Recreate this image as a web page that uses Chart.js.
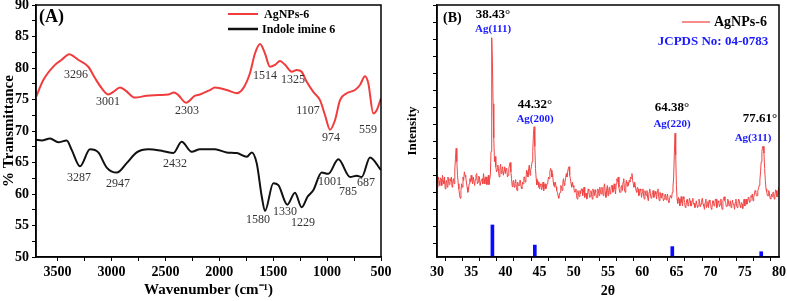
<!DOCTYPE html>
<html>
<head>
<meta charset="utf-8">
<title>FTIR and XRD of AgNPs-6</title>
<script src="https://cdn.jsdelivr.net/npm/chart.js"></script>
<style>
  body { margin: 0; background: #fff; }
  #wrap { position: relative; width: 787px; height: 301px; }
  canvas { position: absolute; top: 0; }
  #ftirChart { left: 0; }
  #xrdChart { left: 395px; }
</style>
</head>
<body>
<div id="wrap">
  <canvas id="ftirChart" width="395" height="301"></canvas>
  <canvas id="xrdChart" width="392" height="301"></canvas>
</div>
<script>
// ---- (A) FTIR ----
var agWave = [3700, 3632, 3524, 3462, 3391, 3354, 3308, 3215, 3153, 3091, 3029, 2983, 2921, 2874, 2782,
  2673, 2566, 2473, 2420, 2380, 2309, 2225, 2179, 2086, 2040, 1931, 1838, 1777, 1715, 1669, 1622, 1576,
  1530, 1483, 1437, 1390, 1328, 1282, 1236, 1189, 1128, 1066, 1019, 973, 927, 880, 818, 741, 695, 648,
  618, 571, 540, 500];
var agTrans = [75.4, 78.1, 80.5, 81.3, 82.2, 81.9, 81.3, 80.2, 78.4, 76.8, 75.8, 76.2, 76.9, 76.5, 75.3,
  75.6, 75.7, 75.8, 76.1, 75.7, 74.5, 75.6, 75.8, 76.5, 76.9, 76.5, 76.0, 76.8, 79.2, 82.3, 83.8, 82.3,
  80.2, 80.5, 81.1, 80.5, 79.4, 79.7, 79.4, 77.8, 76.2, 74.9, 72.5, 70.2, 71.7, 74.9, 76.0, 76.5, 77.3, 78.7,
  77.6, 72.8, 73.3, 75.2];

var imineWave = [3700, 3647, 3570, 3493, 3415, 3369, 3292, 3199, 3122, 3044, 2951, 2859, 2766, 2658, 2519,
  2426, 2349, 2256, 2179, 2086, 2040, 1931, 1838, 1745, 1699, 1653, 1606, 1576, 1499, 1452, 1369, 1298,
  1236, 1180, 1128, 1050, 989, 896, 787, 725, 679, 602, 500];
var imineTrans = [68.6, 68.5, 68.8, 68.2, 68.5, 67.0, 64.4, 67.1, 66.6, 64.2, 63.4, 64.9, 66.6, 67.1, 66.8,
  66.5, 68.3, 66.7, 67.1, 67.1, 67.1, 66.6, 66.5, 65.9, 66.6, 64.9, 59.6, 57.3, 61.7, 61.4, 58.3, 60.2,
  57.9, 59.6, 60.6, 63.4, 63.2, 65.5, 62.7, 62.9, 62.7, 65.8, 63.8];

var ftirBandLabels = ['3296', '3001', '2303', '1514', '1325', '1107', '974', '559',
  '3287', '2947', '2432', '1580', '1330', '1229', '1001', '785', '687'];

// ---- (B) XRD (one value every 0.1 deg from 30 to 80) ----
var xrdStart = 30, xrdStep = 0.1;
var xrdCounts = [
  440, 410, 470, 445, 420, 465, 455, 420, 480, 450, 430, 470, 400, 440, 450, 410, 470, 445, 425, 460,
  445, 470, 410, 440, 460, 430, 510, 580, 638, 560, 480, 430, 400, 360, 345, 390, 430, 410, 470, 450,
  500, 480, 470, 440, 410, 380, 390, 430, 460, 440, 480, 450, 430, 470, 470, 420, 455, 480, 490, 430,
  440, 475, 470, 420, 420, 455, 460, 430, 490, 460, 430, 470, 470, 425, 440, 480, 425, 455, 480, 620,
  1288, 1150, 900, 700, 560, 590, 530, 500, 511, 540, 500, 470, 520, 545, 490, 510, 530, 480, 505, 530,
  490, 520, 515, 470, 480, 520, 540, 555, 500, 460, 413, 440, 450, 410, 430, 455, 410, 390, 440, 420,
  420, 450, 450, 410, 400, 440, 430, 470, 470, 440, 455, 510, 500, 470, 520, 540, 480, 510, 530, 560,
  620, 720, 765, 650, 520, 460, 423, 450, 440, 410, 400, 430, 420, 395, 410, 440, 390, 415, 430, 400,
  410, 430, 440, 470, 460, 500, 521, 510, 470, 490, 440, 420, 410, 440, 413, 390, 380, 360, 345, 370,
  380, 420, 410, 390, 440, 460, 420, 440, 460, 490, 470, 500, 521, 530, 480, 460, 430, 410, 440, 420,
  410, 380, 384, 400, 360, 340, 390, 370, 355, 390, 370, 400, 400, 360, 380, 410, 350, 370, 375, 340,
  360, 400, 390, 350, 354, 390, 370, 340, 400, 380, 360, 395, 380, 350, 350, 400, 390, 360, 410, 380,
  370, 410, 395, 360, 413, 430, 380, 350, 393, 420, 360, 390, 410, 370, 380, 420, 420, 380, 390, 430,
  400, 370, 430, 460, 442, 470, 410, 380, 380, 410, 420, 390, 440, 460, 400, 380, 430, 450, 415, 440,
  420, 450, 440, 470, 462, 490, 450, 430, 410, 440, 420, 390, 380, 410, 400, 360, 370, 400, 390, 350,
  380, 400, 364, 340, 390, 370, 360, 390, 345, 330, 380, 400, 370, 345, 350, 380, 390, 350, 360, 385,
  370, 340, 384, 400, 355, 330, 380, 360, 345, 375, 360, 330, 340, 365, 370, 335, 350, 370, 330, 320,
  340, 360, 355, 345, 380, 410, 470, 610, 727, 600, 420, 340, 315, 350, 340, 300, 330, 355, 320, 300,
  354, 340, 320, 290, 300, 335, 340, 300, 310, 345, 330, 300, 300, 330, 345, 310, 315, 290, 295, 330,
  330, 290, 300, 340, 325, 295, 310, 335, 345, 310, 300, 280, 320, 340, 290, 305, 325, 290, 335, 320,
  310, 280, 290, 330, 330, 300, 305, 340, 340, 290, 300, 330, 320, 295, 310, 340, 295, 280, 330, 345,
  354, 330, 320, 295, 300, 340, 330, 300, 310, 330, 290, 305, 335, 310, 305, 280, 320, 340, 300, 290,
  315, 340, 330, 300, 290, 320, 310, 285, 325, 340, 300, 320, 340, 310, 320, 350, 345, 320, 330, 360,
  350, 370, 330, 350, 370, 390, 384, 360, 360, 390, 400, 420, 450, 500, 560, 620, 648, 650, 610, 520,
  450, 400, 384, 360, 360, 390, 370, 345, 340, 370, 354, 380, 380, 340, 360, 395, 390, 354, 354, 390,
  410];

var jcpdsAngle = [38.1, 44.3, 64.4, 77.4];
var jcpdsCounts = [188, 70, 61, 31];

var peakLabels = ['38.43\u00B0', '44.32\u00B0', '64.38\u00B0', '77.61\u00B0'];
var hklLabels = ['Ag(111)', 'Ag(200)', 'Ag(220)', 'Ag(311)'];

// where the text labels sit, in data units
var ftirBandPos = [[3329, 78.9], [3032, 74.6], [2299, 73.2], [1576, 78.7], [1316, 78.1], [1177, 73.2],
  [964, 68.9], [621, 70.2], [3301, 62.5], [2939, 61.6], [2411, 64.8], [1641, 55.9], [1390, 57.1],
  [1223, 55.4], [973, 61.9], [806, 60.3], [639, 61.7]];
var peakLabelPos = [[38.19, 1421], [44.33, 893], [64.36, 875], [77.22, 810]];
var hklLabelPos = [[38.19, 1339], [44.33, 810], [64.36, 781], [76.2, 699]];

var SERIF = "'Liberation Serif', 'Times New Roman', serif";
Chart.defaults.font.family = SERIF;
Chart.defaults.color = '#000';
Chart.defaults.animation = false;

function pairs(xs, ys) {
  return xs.map(function (x, i) { return { x: x, y: ys[i] }; });
}

function write(ctx, s, x, y, font, color, align) {
  ctx.save();
  ctx.font = font;
  ctx.fillStyle = color;
  ctx.textAlign = align || 'center';
  ctx.textBaseline = 'middle';
  ctx.fillText(s, x, y);
  ctx.restore();
}

function legendLine(ctx, x1, x2, y, color, width) {
  ctx.save();
  ctx.strokeStyle = color;
  ctx.lineWidth = width;
  ctx.beginPath();
  ctx.moveTo(x1, y);
  ctx.lineTo(x2, y);
  ctx.stroke();
  ctx.restore();
}

var framePlugin = {
  id: 'frame',
  afterDraw: function (chart) {
    var a = chart.chartArea, c = chart.ctx;
    c.save();
    c.strokeStyle = '#000';
    c.lineWidth = 1.5;
    c.strokeRect(a.left, a.top, a.right - a.left, a.bottom - a.top);
    c.restore();
  }
};

function axisStyle() {
  return {
    grid: { drawOnChartArea: false, drawTicks: true, tickLength: 4, color: '#000', lineWidth: 1 },
    border: { display: true, color: '#000', width: 1.5 }
  };
}

// ---------- (A) ----------
var ftirNotes = {
  id: 'ftirNotes',
  afterDraw: function (chart) {
    var c = chart.ctx, xs = chart.scales.x, ys = chart.scales.y;
    ftirBandLabels.forEach(function (t, i) {
      write(c, t, xs.getPixelForValue(ftirBandPos[i][0]), ys.getPixelForValue(ftirBandPos[i][1]),
        '12px ' + SERIF, '#333');
    });
    write(c, '(A)', 39, 17, 'bold 18px ' + SERIF, '#000', 'left');
    legendLine(c, 228, 258, 14, '#f03c3c', 2);
    write(c, 'AgNPs-6', 264, 15, 'bold 12px ' + SERIF, '#000', 'left');
    legendLine(c, 228, 258, 29, '#111', 2.5);
    write(c, 'Indole imine 6', 262, 30, 'bold 12px ' + SERIF, '#000', 'left');
  }
};

var ax = axisStyle(), ay = axisStyle();
new Chart(document.getElementById('ftirChart'), {
  type: 'line',
  data: {
    datasets: [
      { label: 'AgNPs-6', data: pairs(agWave, agTrans), borderColor: '#f03c3c', borderWidth: 2,
        pointRadius: 0, cubicInterpolationMode: 'monotone', fill: false },
      { label: 'Indole imine 6', data: pairs(imineWave, imineTrans), borderColor: '#111', borderWidth: 2,
        pointRadius: 0, cubicInterpolationMode: 'monotone', fill: false }
    ]
  },
  options: {
    responsive: false,
    devicePixelRatio: 1,
    layout: { padding: { top: 5, right: 14, left: 0, bottom: 0 } },
    plugins: { legend: { display: false }, tooltip: { enabled: false } },
    scales: {
      x: {
        type: 'linear', reverse: true, min: 500, max: 3700, offset: false,
        grid: ax.grid, border: ax.border,
        afterBuildTicks: function (s) {
          var t = [];
          for (var v = 500; v <= 3500; v += 250) t.push({ value: v });
          s.ticks = t;
        },
        afterFit: function (s) { s.height = 44; s.paddingLeft = 0; s.paddingRight = 0; },
        ticks: {
          autoSkip: false, maxRotation: 0, padding: 3, color: '#000',
          font: { size: 14, weight: 'bold', family: SERIF },
          callback: function (v) { return v % 500 === 0 ? v : ''; }
        },
        title: {
          display: true, text: 'Wavenumber (cm\u207B\u00B9)', color: '#000',
          font: { size: 15, weight: 'bold', family: SERIF }, padding: { top: 0, bottom: 2 }
        }
      },
      y: {
        min: 50, max: 90,
        grid: ay.grid, border: ay.border,
        afterBuildTicks: function (s) {
          var t = [];
          for (var v = 50; v <= 90; v += 2.5) t.push({ value: v });
          s.ticks = t;
        },
        afterFit: function (s) { s.width = 36; s.paddingTop = 0; s.paddingBottom = 0; },
        ticks: {
          autoSkip: false, padding: 3, color: '#000',
          font: { size: 14, weight: 'bold', family: SERIF },
          callback: function (v) { return v % 5 === 0 ? v : ''; }
        },
        title: {
          display: true, text: '% Transmittance', color: '#000',
          font: { size: 15, weight: 'bold', family: SERIF }, padding: { top: 0, bottom: 0 }
        }
      }
    }
  },
  plugins: [framePlugin, ftirNotes]
});

// ---------- (B) ----------
var xrdNotes = {
  id: 'xrdNotes',
  afterDraw: function (chart) {
    var c = chart.ctx, xs = chart.scales.x, ys = chart.scales.y;
    peakLabels.forEach(function (t, i) {
      write(c, t, xs.getPixelForValue(peakLabelPos[i][0]), ys.getPixelForValue(peakLabelPos[i][1]),
        'bold 13px ' + SERIF, '#000');
      write(c, hklLabels[i], xs.getPixelForValue(hklLabelPos[i][0]), ys.getPixelForValue(hklLabelPos[i][1]),
        'bold 11px ' + SERIF, '#1a1aff');
    });
    write(c, '(B)', 48, 18, 'bold 14px ' + SERIF, '#000', 'left');
    legendLine(c, 287, 315, 22, '#f04040', 1.2);
    write(c, 'AgNPs-6', 319, 22, 'bold 14px ' + SERIF, '#000', 'left');
    write(c, 'JCPDS No: 04-0783', 318, 42, 'bold 13px ' + SERIF, '#1a1aff');
  }
};

// sampling grid of the scan: 30, 30.1, 30.2 ... 80
var xrdPoints = xrdCounts.map(function (v, i) {
  return { x: Math.round((xrdStart + i * xrdStep) * 10) / 10, y: v };
});
var bx = axisStyle(), by = axisStyle();
new Chart(document.getElementById('xrdChart'), {
  type: 'line',
  data: {
    datasets: [
      { type: 'line', label: 'AgNPs-6', data: xrdPoints, borderColor: '#f04545', borderWidth: 1,
        pointRadius: 0, tension: 0, fill: false, order: 1 },
      { type: 'bar', label: 'JCPDS 04-0783', data: pairs(jcpdsAngle, jcpdsCounts), backgroundColor: '#0a0aff',
        barThickness: 3, grouped: false, order: 2 }
    ]
  },
  options: {
    responsive: false,
    devicePixelRatio: 1,
    layout: { padding: { top: 5, right: 8, left: 0, bottom: 0 } },
    plugins: { legend: { display: false }, tooltip: { enabled: false } },
    scales: {
      x: {
        type: 'linear', min: 30, max: 80, offset: false,
        grid: bx.grid, border: bx.border,
        afterBuildTicks: function (s) {
          var t = [];
          for (var v = 30; v <= 80; v += 2.5) t.push({ value: v });
          s.ticks = t;
        },
        afterFit: function (s) { s.height = 44; s.paddingLeft = 0; s.paddingRight = 0; },
        ticks: {
          autoSkip: false, maxRotation: 0, padding: 3, color: '#000',
          font: { size: 14, weight: 'bold', family: SERIF },
          callback: function (v) { return v % 5 === 0 ? v : ''; }
        },
        title: {
          display: true, text: '2\u03B8', color: '#000',
          font: { size: 14, weight: 'bold', family: SERIF }, padding: { top: 0, bottom: 1 }
        }
      },
      y: {
        min: 0, max: 1480,
        grid: by.grid, border: by.border,
        afterBuildTicks: function (s) {
          var t = [];
          for (var v = 80; v <= 1480; v += 100) t.push({ value: v });
          s.ticks = t;
        },
        afterFit: function (s) { s.width = 42; s.paddingTop = 0; s.paddingBottom = 0; },
        ticks: { autoSkip: false, padding: 0, callback: function () { return ''; } },
        title: {
          display: true, text: 'Intensity', color: '#000',
          font: { size: 13, weight: 'bold', family: SERIF }, padding: { top: 10, bottom: 0 }
        }
      }
    }
  },
  plugins: [framePlugin, xrdNotes]
});
</script>
</body>
</html>
